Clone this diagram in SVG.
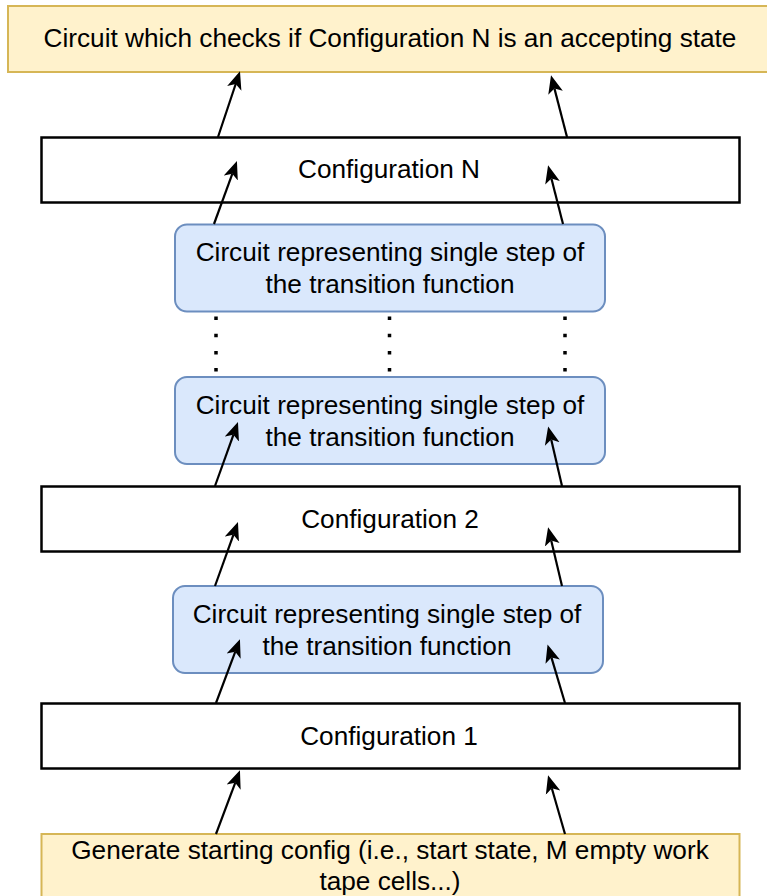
<svg xmlns="http://www.w3.org/2000/svg" width="767" height="896" viewBox="0 0 767 896">
<style>
text{font-family:"Liberation Sans",Arial,sans-serif;font-size:26.2px;fill:#000;text-anchor:middle}
.yel{fill:#fff2cc;stroke:#d6b656;stroke-width:2}
.blu{fill:#dae8fc;stroke:#6c8ebf;stroke-width:2}
.cfg{fill:#fff;stroke:#000;stroke-width:2.5}
.arr{stroke:#000;stroke-width:2.2;fill:none;marker-end:url(#ah)}
.dot{stroke:#000;stroke-width:3.5;stroke-dasharray:3.5 13.7;fill:none}
</style>
<defs>
<marker id="ah" markerUnits="userSpaceOnUse" markerWidth="22" markerHeight="18" refX="4.5" refY="8" orient="auto">
<path d="M18,8 L0,0.5 L4.5,8 L0,15.5 Z" fill="#000"/>
</marker>
</defs>
<rect width="767" height="896" fill="#fff"/>
<g id="accept">
<rect class="yel" x="8" y="6" width="770" height="66"/>
<text x="390" y="47">Circuit which checks if Configuration N is an accepting state</text>
</g>
<g id="configN">
<rect class="cfg" x="41.5" y="137.5" width="698" height="65"/>
<text x="389" y="178">Configuration N</text>
</g>
<g id="stepN">
<rect class="blu" x="175" y="224.5" width="430" height="87" rx="12"/>
<text x="390" y="261">Circuit representing single step of</text>
<text x="390" y="292.5">the transition function</text>
</g>
<g id="step2">
<rect class="blu" x="175" y="377" width="430" height="87" rx="12"/>
<text x="390" y="414">Circuit representing single step of</text>
<text x="390" y="445.5">the transition function</text>
</g>
<g id="config2">
<rect class="cfg" x="41.5" y="486.5" width="698" height="65"/>
<text x="390" y="527.5">Configuration 2</text>
</g>
<g id="step1">
<rect class="blu" x="173" y="586" width="430" height="87" rx="12"/>
<text x="387" y="623">Circuit representing single step of</text>
<text x="387" y="654.5">the transition function</text>
</g>
<g id="config1">
<rect class="cfg" x="41.5" y="703.5" width="698" height="65"/>
<text x="389" y="744.5">Configuration 1</text>
</g>
<g id="start">
<rect class="yel" x="41.5" y="834" width="698" height="80"/>
<text x="390" y="858.5">Generate starting config (i.e., start state, M empty work</text>
<text x="390" y="890">tape cells...)</text>
</g>
<g id="connectors">
<line class="arr" x1="218" y1="137" x2="235.7" y2="84"/>
<line class="arr" x1="567" y1="137" x2="554.4" y2="88.4"/>
<line class="arr" x1="214" y1="224" x2="232.3" y2="173.8"/>
<line class="arr" x1="563" y1="224" x2="551.4" y2="178.4"/>
<line class="arr" x1="215" y1="486" x2="233.4" y2="434.8"/>
<line class="arr" x1="562" y1="486" x2="551.2" y2="439.6"/>
<line class="arr" x1="215" y1="586" x2="233.4" y2="534.8"/>
<line class="arr" x1="562" y1="586" x2="551.2" y2="540.4"/>
<line class="arr" x1="216" y1="703" x2="235.2" y2="651.8"/>
<line class="arr" x1="565" y1="703" x2="551.4" y2="657.4"/>
<line class="arr" x1="216" y1="834" x2="235.2" y2="782.8"/>
<line class="arr" x1="565" y1="834" x2="551.8" y2="788.3"/>
<line class="dot" x1="216" y1="316.5" x2="216" y2="373"/>
<line class="dot" x1="389.5" y1="316.5" x2="389.5" y2="373"/>
<line class="dot" x1="565" y1="316.5" x2="565" y2="373"/>
</g>
</svg>
